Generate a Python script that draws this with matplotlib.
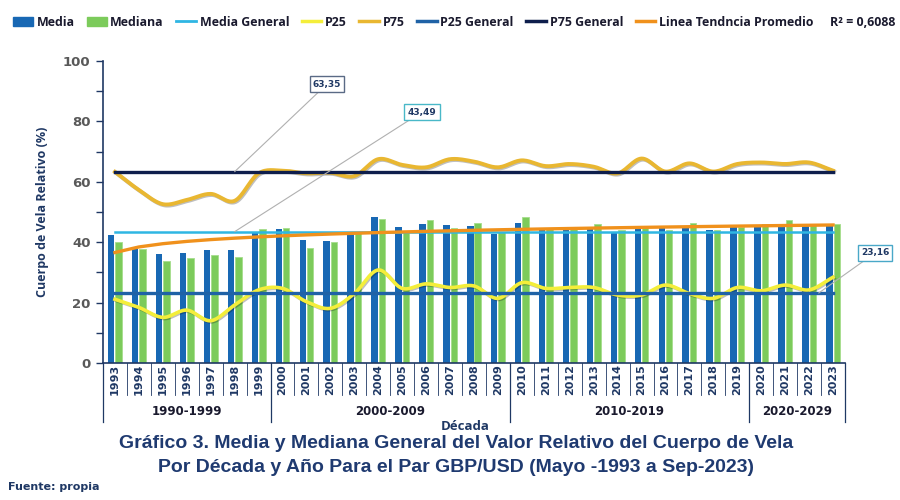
import numpy as np
import matplotlib
matplotlib.use("Agg")
import matplotlib.pyplot as plt
from matplotlib.patches import Patch
from matplotlib.lines import Line2D
import matplotlib.patheffects as pe

# --- data ---
years = list(range(1993, 2024))
decades = [("1990-1999", 1993, 1999), ("2000-2009", 2000, 2009),
           ("2010-2019", 2010, 2019), ("2020-2029", 2020, 2023)]

media = [42.4, 37.8, 36.0, 36.3, 37.4, 37.4, 43.3, 44.3, 40.7, 40.5, 42.9,
         48.4, 44.9, 45.9, 45.7, 45.5, 42.7, 46.3, 44.8, 44.8, 44.9, 43.3,
         44.9, 44.9, 44.9, 44.2, 44.9, 44.9, 44.9, 45.7, 46.0]
mediana = [40.2, 37.6, 33.9, 34.7, 35.9, 35.2, 44.3, 44.6, 38.2, 40.1, 43.0,
           47.7, 43.8, 47.4, 44.6, 46.3, 43.3, 48.5, 44.3, 45.0, 46.0, 44.0,
           45.1, 44.0, 46.5, 44.2, 44.9, 46.0, 47.4, 45.8, 46.0]
p25 = [21.1, 18.4, 15.1, 17.5, 14.0, 19.2, 24.2, 24.7, 20.3, 18.1, 23.0,
       30.8, 24.7, 26.2, 25.0, 25.5, 21.4, 26.6, 24.7, 25.0, 25.0, 22.5,
       22.5, 25.8, 23.0, 21.4, 25.0, 23.9, 25.8, 24.2, 28.4]
p75 = [63.3, 57.3, 52.6, 54.0, 56.0, 53.7, 62.8, 63.7, 62.8, 63.0, 61.9,
       67.5, 65.6, 64.8, 67.5, 66.7, 64.8, 67.1, 65.2, 65.9, 65.0, 62.8,
       67.7, 63.4, 66.1, 63.4, 65.9, 66.4, 65.9, 66.4, 63.7]
media_general = 43.49
p25_general = 23.16
p75_general = 63.35
r2_text = "R² = 0,6088"

NAVY = "#1F3864"
TITLE = "#1F3A70"
C_MEDIA = "#1868B4"
C_MEDIANA = "#7CCB5B"
C_MGEN = "#2FB6E3"
C_P25 = "#F4EE3A"
C_P75 = "#E9B731"
C_P25G = "#1F62A6"
C_P75G = "#0E1E4C"
C_TREND = "#F0911C"


def smooth(x, y, n=16):
    """Catmull-Rom curve through the points (like Excel smoothed lines)."""
    x = np.asarray(x, float); y = np.asarray(y, float)
    px = np.concatenate([[2 * x[0] - x[1]], x, [2 * x[-1] - x[-2]]])
    py = np.concatenate([[2 * y[0] - y[1]], y, [2 * y[-1] - y[-2]]])
    t = np.linspace(0, 1, n, endpoint=False)
    xs, ys = [], []
    for i in range(1, len(px) - 2):
        for arr, out in ((px, xs), (py, ys)):
            p0, p1, p2, p3 = arr[i - 1], arr[i], arr[i + 1], arr[i + 2]
            out.extend(0.5 * (2 * p1 + (-p0 + p2) * t
                              + (2 * p0 - 5 * p1 + 4 * p2 - p3) * t ** 2
                              + (-p0 + 3 * p1 - 3 * p2 + p3) * t ** 3))
    xs.append(x[-1]); ys.append(y[-1])
    return np.array(xs), np.array(ys)


fig = plt.figure(figsize=(9, 5), dpi=100)
ax = fig.add_axes([103 / 900, 1 - 363 / 500, 742 / 900, 302 / 500])

idx = np.arange(len(years))
bw = 0.27
ax.bar(idx - bw / 2 - 0.02, media, width=bw, color=C_MEDIA, zorder=2)
ax.bar(idx + bw / 2 + 0.02, mediana, width=bw, color=C_MEDIANA,
       edgecolor="#A6DD8C", linewidth=0.6, zorder=2)

# logarithmic trend of the yearly mean
coef = np.polyfit(np.log(idx + 1), media, 1)
trend = coef[1] + coef[0] * np.log(idx + 1)

shadow = [pe.SimpleLineShadow(offset=(0.8, -0.8), alpha=0.25), pe.Normal()]
ax.plot([idx[0], idx[-1]], [media_general] * 2, color=C_MGEN, lw=1.8, zorder=3)
ax.plot(*smooth(idx, p25), color=C_P25, lw=2.6, zorder=4, path_effects=shadow)
ax.plot(*smooth(idx, p75), color=C_P75, lw=2.8, zorder=4, path_effects=shadow)
ax.plot([idx[0], idx[-1]], [p25_general] * 2, color=C_P25G, lw=2.4, zorder=5)
ax.plot([idx[0], idx[-1]], [p75_general] * 2, color=C_P75G, lw=2.4, zorder=5)
ax.plot(idx, trend, color=C_TREND, lw=2.4, zorder=5)

ax.set_xlim(-0.5, len(years) - 0.5)
ax.set_ylim(0, 100)
ax.set_yticks(range(0, 101, 20))
ax.set_yticks(range(0, 101, 10), minor=True)
ax.tick_params(axis="y", which="both", direction="out", length=5, width=1,
               color=NAVY, labelsize=9.5, labelcolor="#595959", pad=4)
for lab in ax.get_yticklabels():
    lab.set_fontweight("bold")
ax.set_xticks([])
for s in ("top", "right"):
    ax.spines[s].set_visible(False)
for s in ("left", "bottom"):
    ax.spines[s].set_color(NAVY)
    ax.spines[s].set_linewidth(1.2)
ax.set_ylabel("Cuerpo de Vela Relativo (%)", fontsize=9, color=NAVY,
              fontweight="bold", family="Open Sans", labelpad=10)

# multi-level category axis below the plot
tr = ax.get_xaxis_transform()
for i, yr in enumerate(years):
    ax.text(i, -0.055, str(yr), transform=tr, rotation=90, ha="center",
            va="center", fontsize=8, fontweight="bold", color=NAVY)
starts = {d[1] for d in decades}
for i, yr in enumerate(years):
    if yr not in starts:
        ax.plot([i - 0.5] * 2, [0, -0.106], transform=tr, color=NAVY, lw=0.6,
                clip_on=False)
for name, a, b in decades:
    i0, i1 = years.index(a), years.index(b)
    ax.plot([i0 - 0.5] * 2, [0, -0.195], transform=tr, color=NAVY, lw=0.9,
            clip_on=False)
    ax.text((i0 + i1) / 2, -0.162, name, transform=tr, ha="center",
            va="center", fontsize=8.5, fontweight="bold", color="#1A1A2E")
ax.plot([len(years) - 0.5] * 2, [0, -0.195], transform=tr, color=NAVY,
        lw=0.9, clip_on=False)

fig.text(465 / 900, 1 - 426 / 500, "Década", ha="center", va="center",
         fontsize=9.5, fontweight="bold", color=NAVY, family="Open Sans")
fig.text(456 / 900, 1 - 444 / 500,
         "Gráfico 3. Media y Mediana General del Valor Relativo del Cuerpo de Vela",
         ha="center", va="center", fontsize=14, fontweight="bold",
         color=TITLE, family="Liberation Sans")
fig.text(456 / 900, 1 - 467 / 500,
         "Por Década y Año Para el Par GBP/USD (Mayo -1993 a Sep-2023)",
         ha="center", va="center", fontsize=14, fontweight="bold",
         color=TITLE, family="Liberation Sans")
fig.text(8 / 900, 1 - 487 / 500, "Fuente: propia", ha="left", va="center",
         fontsize=8, fontweight="bold", color=NAVY)

# value callouts
callouts = [(p75_general, 5, (327, 84), "#5A6A85"),
            (media_general, 5, (422, 112), "#49B8C8"),
            (p25_general, 29.4, (875, 253), "#49A8C8")]
for val, xi, (bx, by), ec in callouts:
    ax.annotate(f"{val:.2f}".replace(".", ","), xy=(xi, val),
                xytext=(bx / 900, 1 - by / 500), textcoords="figure fraction",
                ha="center", va="center", fontsize=6.5, fontweight="bold",
                color=NAVY, zorder=6,
                bbox=dict(boxstyle="square,pad=0.35", fc="white", ec=ec, lw=1),
                arrowprops=dict(arrowstyle="-", color="#B0B0B0", lw=0.8,
                                shrinkA=0, shrinkB=0))

handles = [Patch(color=C_MEDIA), Patch(color=C_MEDIANA),
           Line2D([], [], color=C_MGEN, lw=2), Line2D([], [], color=C_P25, lw=2.5),
           Line2D([], [], color=C_P75, lw=2.5), Line2D([], [], color=C_P25G, lw=2.5),
           Line2D([], [], color=C_P75G, lw=2.5), Line2D([], [], color=C_TREND, lw=2.5)]
labels = ["Media", "Mediana", "Media General", "P25", "P75", "P25 General",
          "P75 General", "Linea Tendncia Promedio"]
leg = fig.legend(handles, labels, loc="center left", ncol=8, frameon=False,
                 bbox_to_anchor=(8 / 900, 1 - 22 / 500), handlelength=1.6,
                 handletextpad=0.3, columnspacing=1.0, borderaxespad=0,
                 prop=dict(family="Open Sans", weight="bold", size=8.9))
for t in leg.get_texts():
    t.set_color("#1A1A2E")
fig.text(895 / 900, 1 - 22 / 500, r2_text, ha="right", va="center",
         fontsize=8.9, fontweight="bold", color="#1A1A2E", family="Open Sans")

fig.savefig("out.png", dpi=100)
